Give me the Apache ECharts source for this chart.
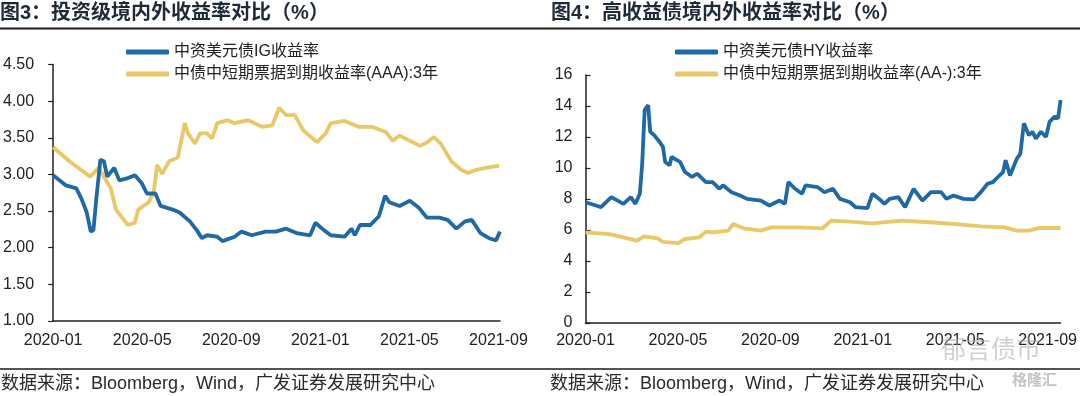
<!DOCTYPE html>
<html>
<head>
<meta charset="utf-8">
<script src="https://cdn.jsdelivr.net/npm/echarts@6/dist/echarts.min.js"></script>
<style>
  html, body { margin: 0; padding: 0; background: #fff; }
  #chart { width: 1080px; height: 396px; }
</style>
</head>
<body>
<div id="chart"></div>
<script>
// x 值为自 2020-01 起的月数
const xTickLabels = ['2020-01', '2020-05', '2020-09', '2021-01', '2021-05', '2021-09'];

// 图3：投资级
const igMonths = [0, 0.58, 1.04, 1.27, 1.51, 1.69, 1.81, 1.94, 2.05, 2.12, 2.28, 2.43, 2.74, 2.97, 3.36, 3.67, 3.98, 4.21, 4.59, 4.83, 5.37, 5.68, 6.14, 6.45, 6.68, 6.91, 7.37, 7.61, 8.15, 8.46, 8.92, 9.54, 10.0, 10.46, 10.93, 11.54, 11.78, 12.16, 12.47, 13.09, 13.4, 13.55, 13.78, 14.25, 14.63, 14.91, 15.1, 15.56, 16.02, 16.41, 16.79, 17.34, 17.72, 18.11, 18.5, 18.8, 19.19, 19.58, 19.89, 20.07];
const igYield = [2.99, 2.85, 2.81, 2.67, 2.48, 2.22, 2.24, 2.67, 2.99, 3.20, 3.18, 2.97, 3.09, 2.92, 2.95, 2.99, 2.88, 2.74, 2.74, 2.57, 2.52, 2.48, 2.36, 2.24, 2.13, 2.17, 2.15, 2.09, 2.15, 2.22, 2.17, 2.22, 2.22, 2.26, 2.20, 2.17, 2.34, 2.24, 2.17, 2.15, 2.26, 2.17, 2.31, 2.31, 2.43, 2.71, 2.62, 2.57, 2.64, 2.55, 2.41, 2.41, 2.38, 2.26, 2.36, 2.38, 2.20, 2.13, 2.10, 2.22];
const aaaMonths = [0, 0.73, 1.66, 2.05, 2.59, 2.82, 3.36, 3.67, 3.82, 4.29, 4.52, 4.67, 4.9, 5.21, 5.6, 5.91, 6.06, 6.37, 6.6, 6.91, 7.14, 7.37, 7.84, 8.15, 8.76, 9.38, 9.84, 10.15, 10.46, 10.85, 11.24, 11.85, 12.24, 12.47, 13.09, 13.71, 14.32, 14.94, 15.25, 15.56, 16.02, 16.49, 16.8, 17.1, 17.41, 17.88, 18.34, 18.65, 18.96, 19.42, 20.04];
const aaaYield = [3.37, 3.18, 2.97, 3.09, 2.81, 2.52, 2.31, 2.34, 2.52, 2.62, 2.76, 3.13, 3.01, 3.18, 3.23, 3.70, 3.56, 3.42, 3.56, 3.56, 3.49, 3.70, 3.74, 3.70, 3.74, 3.65, 3.67, 3.91, 3.81, 3.81, 3.60, 3.44, 3.56, 3.70, 3.73, 3.65, 3.65, 3.58, 3.46, 3.53, 3.46, 3.39, 3.44, 3.51, 3.42, 3.18, 3.06, 3.02, 3.06, 3.09, 3.12];

// 图4：高收益
const hyMonths = [0, 0.45, 0.67, 1.12, 1.64, 1.96, 2.16, 2.35, 2.45, 2.56, 2.71, 2.8, 2.97, 3.2, 3.35, 3.45, 3.64, 3.72, 4.09, 4.31, 4.61, 4.83, 5.21, 5.5, 5.8, 5.95, 6.32, 6.69, 6.99, 7.59, 7.96, 8.4, 8.63, 8.78, 9.07, 9.37, 9.52, 10.04, 10.34, 10.71, 11.01, 11.45, 11.68, 12.2, 12.42, 12.79, 12.94, 13.16, 13.54, 13.83, 14.2, 14.58, 14.95, 15.39, 15.62, 15.92, 16.36, 16.81, 17.11, 17.4, 17.63, 17.85, 18.07, 18.18, 18.37, 18.67, 18.82, 18.97, 19.19, 19.34, 19.49, 19.71, 19.93, 20.08, 20.3, 20.45, 20.56];
const hyYield = [7.79, 7.58, 7.47, 8.12, 7.69, 8.12, 7.69, 8.34, 10.17, 13.74, 14.06, 12.34, 12.12, 11.69, 11.36, 10.39, 10.17, 10.71, 10.39, 9.74, 9.42, 9.63, 9.09, 9.09, 8.66, 8.88, 8.44, 8.23, 8.01, 7.90, 7.58, 7.90, 7.69, 9.09, 8.66, 8.34, 8.88, 8.77, 8.44, 8.66, 8.01, 7.79, 7.47, 7.41, 8.34, 7.90, 7.69, 8.01, 8.12, 7.47, 8.66, 7.90, 8.44, 8.44, 8.01, 8.23, 8.01, 7.97, 8.44, 8.98, 9.09, 9.42, 9.74, 10.5, 9.52, 10.61, 10.93, 12.88, 12.12, 12.34, 11.90, 12.34, 12.01, 12.98, 13.31, 13.2, 14.39];
const aaMonths = [0, 1.04, 2.23, 2.53, 3.12, 3.35, 4.02, 4.31, 4.91, 5.21, 5.5, 6.17, 6.4, 6.84, 7.59, 8.03, 9.22, 10.26, 10.64, 11.45, 12.42, 13.68, 14.87, 15.92, 17.11, 18.15, 18.67, 19.19, 19.63, 20.56];
const aaYield = [5.85, 5.74, 5.31, 5.59, 5.46, 5.24, 5.16, 5.42, 5.52, 5.89, 5.85, 5.96, 6.39, 6.11, 5.96, 6.17, 6.17, 6.11, 6.61, 6.54, 6.43, 6.61, 6.50, 6.39, 6.24, 6.17, 5.96, 5.96, 6.13, 6.13];

const BLUE = '#1f69a6';
const GOLD = '#e8c867';
const LATIN = 'Liberation Sans, Arial, Noto Sans CJK SC, sans-serif';
const TEXT = '#222';

function pairs(xs, ys) {
    return xs.map((x, i) => [x, ys[i]]);
}

function xAxisFor(gridIndex, max, margin) {
    return {
        type: 'value', gridIndex: gridIndex, min: 0, max: max, interval: 4,
        axisLine: { show: true, lineStyle: { color: '#222', width: 1.5 } },
        axisTick: { show: false },
        splitLine: { show: false },
        axisLabel: {
            margin: margin, fontSize: 16, color: TEXT, fontFamily: LATIN,
            showMaxLabel: true, hideOverlap: false,
            formatter: v => (Math.abs(v / 4 - Math.round(v / 4)) < 1e-6 ? (xTickLabels[Math.round(v / 4)] || '') : '')
        }
    };
}

function lineSeries(name, data, color, xi, yi) {
    return {
        type: 'line', name: name, xAxisIndex: xi, yAxisIndex: yi,
        data: data, showSymbol: false, symbol: 'none',
        lineStyle: { color: color, width: 3.8 }, itemStyle: { color: color },
        emphasis: { disabled: true }
    };
}

function legendFor(left, names) {
    return {
        left: left, top: 44, orient: 'vertical', icon: 'roundRect', padding: 0,
        itemWidth: 43, itemHeight: 5, itemGap: 6,
        data: names,
        textStyle: { fontSize: 16, color: TEXT, fontFamily: LATIN, lineHeight: 16 }
    };
}

function titleFor(left, text) {
    return {
        text: text, left: left, top: 3, padding: 0,
        textStyle: { fontSize: 20, fontWeight: 'bold', color: '#1e2a38', fontFamily: LATIN }
    };
}

const chart = echarts.init(document.getElementById('chart'));

chart.setOption({
    animation: false,
    backgroundColor: '#fff',
    title: [
        titleFor(0, '图3：投资级境内外收益率对比（%）'),
        titleFor(551, '图4：高收益债境内外收益率对比（%）')
    ],
    legend: [
        legendFor(126, ['中资美元债IG收益率', '中债中短期票据到期收益率(AAA):3年']),
        legendFor(675, ['中资美元债HY收益率', '中债中短期票据到期收益率(AA-):3年'])
    ],
    grid: [
        { left: 52.5, top: 64.5, width: 447.5, height: 256.5 },
        { left: 585.5, top: 75, width: 475.5, height: 248 }
    ],
    xAxis: [
        xAxisFor(0, 20.07, 12),
        xAxisFor(1, 20.56, 10)
    ],
    yAxis: [
        {
            type: 'value', gridIndex: 0, min: 1, max: 4.5, interval: 0.5,
            axisLine: { show: true, lineStyle: { color: '#222', width: 1.5 } },
            axisTick: { show: true, inside: false, length: 5, lineStyle: { color: '#222', width: 1.2 } },
            splitLine: { show: false },
            axisLabel: { margin: 19, fontSize: 16, color: TEXT, fontFamily: LATIN, formatter: v => v.toFixed(2) }
        },
        {
            type: 'value', gridIndex: 1, min: 0, max: 16, interval: 2,
            axisLine: { show: true, lineStyle: { color: '#222', width: 1.5 } },
            axisTick: { show: true, inside: true, length: 5, lineStyle: { color: '#222', width: 1.2 } },
            splitLine: { show: false },
            axisLabel: { margin: 13, fontSize: 16, color: TEXT, fontFamily: LATIN }
        }
    ],
    series: [
        lineSeries('中债中短期票据到期收益率(AAA):3年', pairs(aaaMonths, aaaYield), GOLD, 0, 0),
        lineSeries('中资美元债IG收益率', pairs(igMonths, igYield), BLUE, 0, 0),
        lineSeries('中债中短期票据到期收益率(AA-):3年', pairs(aaMonths, aaYield), GOLD, 1, 1),
        lineSeries('中资美元债HY收益率', pairs(hyMonths, hyYield), BLUE, 1, 1)
    ],
    graphic: [
        // 标题下横线
        { type: 'line', shape: { x1: 0, y1: 28.5, x2: 1080, y2: 28.5 }, style: { stroke: '#1a1a1a', lineWidth: 2 }, silent: true },
        // 底部来源横线
        { type: 'line', shape: { x1: 0, y1: 369, x2: 1080, y2: 369 }, style: { stroke: '#1a1a1a', lineWidth: 1.5 }, silent: true },
        { type: 'text', left: 1, top: 375,
          style: { text: '数据来源：Bloomberg，Wind，广发证券发展研究中心', fontSize: 18, fill: '#2a2a2a', fontFamily: LATIN } },
        { type: 'text', left: 550, top: 375,
          style: { text: '数据来源：Bloomberg，Wind，广发证券发展研究中心', fontSize: 18, fill: '#2a2a2a', fontFamily: LATIN } },
        // 水印
        { type: 'text', left: 941, top: 336, z: 100,
          style: { text: '郁言债市', fontSize: 25, fill: 'rgba(170,170,170,0.55)', fontFamily: 'Noto Sans CJK SC' } },
        { type: 'text', left: 1012, top: 372, z: 100,
          style: { text: '格隆汇', fontSize: 15, fill: 'rgba(170,170,170,0.7)', fontFamily: 'Noto Sans CJK SC', fontWeight: 'bold' } }
    ]
});
</script>
</body>
</html>
